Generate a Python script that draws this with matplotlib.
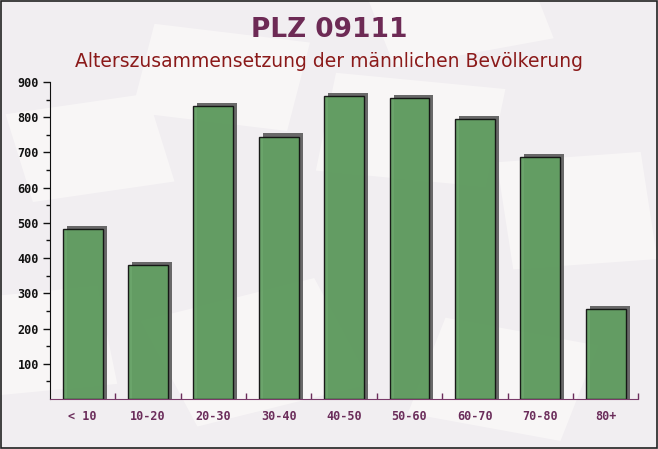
import matplotlib
matplotlib.use("Agg")
import matplotlib.pyplot as plt
import matplotlib.transforms as mtransforms
from matplotlib.patches import Rectangle
import numpy as np

# data
categories = ["< 10", "10-20", "20-30", "30-40", "40-50", "50-60", "60-70", "70-80", "80+"]
values = [483, 380, 832, 745, 860, 854, 795, 687, 255]
y_ticks = [100, 200, 300, 400, 500, 600, 700, 800, 900]

title = "PLZ 09111"
subtitle = "Alterszusammensetzung der männlichen Bevölkerung"

fig = plt.figure(figsize=(6.58, 4.49), dpi=100)
fig.patch.set_facecolor("#f1eef1")

# background layer with faint envelope-like shapes
bg = fig.add_axes([0, 0, 1, 1], zorder=-1)
bg.set_xlim(0, 1)
bg.set_ylim(0, 1)
bg.axis("off")
bg_shapes = [
    (0.05, 0.55, 0.22, 0.20, 12), (0.48, 0.62, 0.26, 0.22, -8),
    (0.78, 0.40, 0.22, 0.24, 6), (0.30, 0.05, 0.28, 0.25, 20),
    (0.62, 0.08, 0.24, 0.22, -15), (0.00, 0.12, 0.18, 0.22, 8),
    (0.20, 0.75, 0.24, 0.20, -10), (0.60, 0.85, 0.25, 0.18, 15),
]
for x0, y0, w, h, ang in bg_shapes:
    bg.add_patch(Rectangle((x0, y0), w, h, angle=ang, facecolor="#f9f7f7",
                           edgecolor="none", alpha=0.9))
# frame around the whole image
bg.add_patch(Rectangle((0.001, 0.002), 0.997, 0.996, facecolor="none",
                       edgecolor="#222222", linewidth=1.2))

ax = fig.add_axes([0.076, 0.1114, 0.894, 0.706], zorder=1)
ax.set_facecolor("none")

x = np.arange(len(categories))
width = 0.61

# shadow bars, shifted a few pixels right and up
shadow_tf = ax.transData + mtransforms.ScaledTranslation(4 / 100, 0, fig.dpi_scale_trans)
ax.bar(x, np.array(values) + 9, width=width, color="#5a5a5a", alpha=0.9,
       transform=shadow_tf, zorder=2, clip_on=False)
ax.bar(x, values, width=width, color="#63a063", edgecolor="#111111",
       linewidth=1.0, alpha=0.95, zorder=3)

ax.set_xlim(-0.5, len(categories) - 0.5)
ax.set_ylim(0, 900)

ax.set_yticks(y_ticks)
ax.set_yticks(np.arange(50, 900, 100), minor=True)
ax.set_xticks(x)
ax.set_xticklabels(categories)
ax.set_xticks(np.arange(0.5, len(categories) - 0.4, 1), minor=True)

mono = ["DejaVu Sans Mono"]
for lab in ax.get_yticklabels():
    lab.set_fontfamily(mono)
    lab.set_fontweight("bold")
    lab.set_fontsize(8.5)
    lab.set_color("#111111")
for lab in ax.get_xticklabels():
    lab.set_fontfamily(mono)
    lab.set_fontweight("bold")
    lab.set_fontsize(8.5)
    lab.set_color("#6b2d5b")

ax.tick_params(axis="y", which="major", length=5, width=1, color="#111111", pad=3)
ax.tick_params(axis="y", which="minor", length=3, width=1, color="#111111")
ax.tick_params(axis="x", which="major", length=0, pad=8)
ax.tick_params(axis="x", which="minor", length=4, width=1, direction="in", color="#6b2d5b")

for side in ["top", "right"]:
    ax.spines[side].set_visible(False)
ax.spines["left"].set_color("#111111")
ax.spines["bottom"].set_color("#7a3b6a")
ax.spines["left"].set_zorder(4)
ax.spines["bottom"].set_zorder(4)

fig.text(0.5, 0.933, title, ha="center", va="center", fontsize=19,
         fontweight="bold", color="#6d2a55", family=["DejaVu Sans"])
fig.text(0.5, 0.862, subtitle, ha="center", va="center", fontsize=13.5,
         color="#8b1a1a", family=["DejaVu Sans"])

fig.savefig("out.png", dpi=100, facecolor=fig.get_facecolor())
